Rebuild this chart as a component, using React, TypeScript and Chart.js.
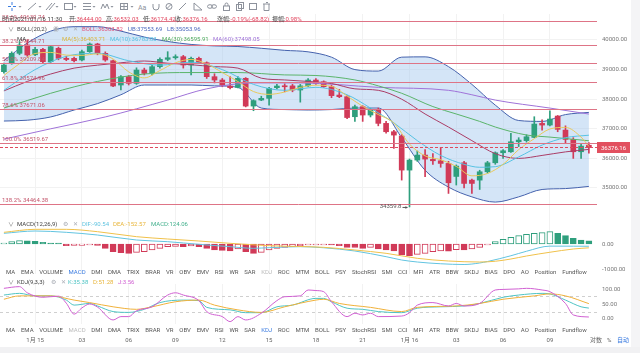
import React, { useEffect, useRef } from 'react';
import { Chart, registerables } from 'chart.js';

Chart.register(...registerables);

// ---------------- data ----------------
const opens = [
  38929, 39211, 39549, 39831, 39500, 39684, 39267, 39718, 39380, 39380,
  39324, 39605, 39865, 39549, 39300, 38478, 38760, 38535, 38985, 38873,
  39098, 39346, 39400, 39437, 39155, 39380, 39233, 38760, 38648, 38445,
  38400, 38704, 37768, 37971, 38028, 38388, 38445, 38450, 38310, 38450,
  38647, 38591, 38422, 38140, 38084, 37408, 37746, 37465, 37656, 37183,
  36901, 36754, 35605, 35943, 36112, 35966, 35920, 35830, 35390, 35852,
  35266, 35266, 35548, 35852, 36191, 36224, 36562, 36600, 36709, 37183,
  37126, 37430, 36957, 36641, 36224, 36444.0,
];
const highs = [
  39220, 39600, 39950, 40000, 39750, 39720, 39800, 39760, 39450, 39420,
  39660, 39900, 39890, 39600, 39320, 38800, 38800, 39060, 39050, 39150,
  39400, 39605, 39500, 39480, 39420, 39420, 39260, 38860, 38700, 38760,
  38760, 38730, 37980, 38100, 38400, 38500, 38520, 38500, 38500, 38700,
  38700, 38620, 38480, 38330, 38120, 37800, 37780, 37680, 37700, 37250,
  36950, 36800, 35980, 36250, 36300, 36160, 36371, 35900, 35780, 35900,
  35300, 35600, 35900, 36220, 36300, 36844, 36700, 36800, 37408, 37300,
  37611, 37450, 37100, 36700, 36500, 36532.03,
];
const lows = [
  38880, 39180, 39500, 39450, 39470, 39230, 39240, 39330, 39300, 39260,
  39290, 39580, 39500, 39280, 38420, 38310, 38480, 38500, 38820, 38820,
  39050, 39300, 39350, 39050, 38816, 39200, 38700, 38550, 38420, 38350,
  38380, 37740, 37610, 37950, 37800, 38350, 38250, 38250, 37900, 38420,
  38500, 38400, 38050, 38050, 37340, 37250, 37250, 37400, 37100, 36850,
  36338, 35267, 34359.8, 35900, 35380, 35800, 35700, 34816, 35100, 35000,
  34816, 34950, 35500, 35800, 36000, 36200, 36400, 36550, 36700, 36950,
  37100, 36900, 36500, 36000, 36000, 36174.42,
];
const closes = [
  39155, 39549, 39831, 39493, 39684, 39267, 39774, 39380, 39340, 39300,
  39605, 39865, 39549, 39324, 38445, 38760, 38535, 38985, 38873, 39098,
  39346, 39400, 39437, 39155, 39380, 39233, 38760, 38648, 38478, 38388,
  38704, 37768, 37950, 38028, 38366, 38445, 38420, 38310, 38450, 38647,
  38535, 38422, 38120, 38084, 37380, 37746, 37465, 37633, 37183, 36901,
  36788, 35605, 35943, 36112, 35977, 35920, 35830, 35177, 35740, 35154,
  35154, 35548, 35852, 36190, 36258, 36562, 36620, 36731, 37160, 37126,
  37329, 36980, 36641, 36224, 36416, 36376.16,
];

const xTickIdx = [4, 10, 16, 22, 28, 34, 40, 46, 52, 58, 64, 70];
const xTickLabels = ['1月 15', '03', '06', '09', '12', '15', '18', '21', '1月 16', '03', '06', '09'];

const priceTicks = [35000, 36000, 37000, 38000, 39000, 40000];
const macdTicks = [-1000, 0];
const kdjTicks = [0, 50, 100];

const fibPct = ['23.6%', '38.2%', '50.0%', '61.8%', '78.6%', '100.0%', '138.2%'];
const fibVals = [40630.74, 39844.71, 39209.84, 38574.96, 37671.06, 36519.67, 34464.38];
const lastPrice = 36376.16;
const lowMark = 34359.8;
const lowMarkIdx = 52;

const bandIdx = [0, 3, 6, 9, 12, 15, 18, 21, 24, 27, 30, 33, 36, 39, 42, 45, 48, 51, 54, 57, 60, 63, 66, 69, 72, 75];
const ubVals = [39300, 39900, 40300, 40450, 40450, 40300, 40100, 39950, 39850, 39800, 39780, 39720, 39650, 39600, 39420, 39000, 38950, 39420, 39430, 39100, 38500, 37800, 37280, 37250, 37480, 37553.69];
const lbVals = [37262, 37290, 37400, 37634, 37850, 38150, 38479, 38479, 38479, 38450, 38400, 37700, 37650, 37634, 37650, 37700, 37700, 36700, 35600, 35030, 34700, 34524, 34700, 34950, 34980, 35053.96];
const bollVals = [38280, 38600, 38850, 39050, 39150, 39230, 39290, 39215, 39165, 39100, 39050, 38710, 38650, 38600, 38530, 38350, 38300, 38000, 37500, 37060, 36600, 36160, 36000, 36100, 36220, 36303.82];

const ma5Pts: [number, number][] = [
  [0, 38800], [2, 39200], [4, 39542], [6, 39580], [8, 39489], [10, 39480], [12, 39532], [14, 39358],
  [16, 38923], [18, 38720], [20, 38967], [22, 39231], [24, 39344], [26, 39193], [28, 38900], [30, 38596],
  [32, 38258], [34, 38163], [36, 38242], [38, 38398], [40, 38472], [42, 38435], [44, 38108], [46, 37759],
  [48, 37481], [50, 37194], [52, 36484], [54, 36085], [56, 35956], [58, 35729], [60, 35411], [62, 35490],
  [64, 35800], [66, 36296], [68, 36666], [70, 36993], [72, 37047], [74, 36718], [75, 36403.71],
];
const ma10Pts: [number, number][] = [
  [0, 38300], [4, 39000], [8, 39450], [12, 39550], [16, 39300], [20, 39150], [24, 39250], [28, 39000],
  [32, 38500], [36, 38300], [40, 38400], [44, 38150], [47, 37700], [50, 37200], [53, 36600], [56, 36100],
  [59, 35800], [61, 35700], [63, 35720], [66, 36050], [69, 36450], [72, 36700], [75, 36783.83],
];
const ma30Pts: [number, number][] = [
  [0, 37700], [6, 38200], [12, 38600], [18, 38850], [24, 38900], [30, 38900], [36, 38820], [40, 38800],
  [45, 38650], [48, 38450], [51, 38200], [55, 37750], [58, 37500], [61, 37250], [63, 37060], [67, 36790],
  [70, 36720], [75, 36595.91],
];
const ma60Pts: [number, number][] = [
  [0, 36650], [6, 37000], [13, 37400], [21, 37970], [26, 38350], [32, 38550], [38, 38550], [48, 38400],
  [57, 38300], [60, 38150], [63, 37970], [70, 37700], [75, 37498.05],
];

const macdHist = [
  10, 93, 133, 128, 107, 67, 40, 13, -67, -60,
  -53, -40, -60, -173, -307, -347, -373, -333, -307, -240,
  -173, -107, -100, -107, -80, -107, -173, -240, -253, -280,
  -200, -307, -373, -333, -240, -173, -133, -107, -80, -40,
  -20, -20, -27, -67, -133, -140, -173, -133, -200, -240,
  -280, -440, -467, -413, -373, -307, -280, -290, -227, -240,
  -200, -133, -40, 93, 187, 267, 333, 387, 427, 453,
  493, 427, 333, 227, 160, 124.06,
];
const difPts: [number, number][] = [
  [0, 427], [4, 520], [8, 467], [12, 360], [17, 160], [21, 93], [25, -13], [29, -107], [32, -173],
  [34, -147], [38, -107], [41, -150], [45, -280], [49, -507], [51, -640], [53, -720], [56, -790],
  [59, -820], [61, -760], [62, -700], [65, -470], [67, -290], [70, -85], [73, -87], [75, -90.54],
];
const deaPts: [number, number][] = [
  [0, 467], [4, 587], [8, 587], [12, 493], [17, 293], [21, 200], [25, 120], [29, 27], [34, -67],
  [41, -133], [45, -240], [49, -373], [53, -573], [57, -680], [61, -720], [63, -690], [65, -600],
  [67, -480], [70, -330], [73, -200], [75, -152.57],
];

const kPts: [number, number][] = [
  [0, 82], [2, 88], [4, 79], [6, 79], [8, 64], [9, 46], [11, 52], [12, 43], [14, 23], [16, 20], [18, 31],
  [20, 55], [23, 64], [25, 62], [26, 38], [29, 29], [31, 19], [33, 19], [35, 40], [37, 46], [40, 70],
  [41, 70], [42, 58], [44, 35], [46, 31], [48, 23], [51, 19], [53, 35], [56, 40], [59, 43], [61, 52],
  [64, 74], [66, 82], [69, 88], [70, 86], [72, 64], [74, 40], [75, 35.38],
];
const dPts: [number, number][] = [
  [0, 67], [2, 79], [6, 79], [9, 64], [11, 55], [14, 40], [17, 31], [19, 40], [22, 58], [25, 64],
  [27, 46], [30, 29], [33, 20], [36, 40], [40, 64], [41, 67], [43, 52], [47, 38], [51, 23], [53, 38],
  [58, 43], [61, 52], [64, 67], [68, 79], [70, 86], [72, 79], [75, 51.28],
];
const jPts: [number, number][] = [
  [0, 106], [2, 112], [3, 90], [5, 74], [7, 78], [8, 53], [9, 14], [10, 36], [11, 50], [12, 39],
  [14, -7], [15, 5], [16, 5], [17, 26], [19, 40], [21, 82], [22, 90], [23, 82], [25, 62], [26, 23],
  [28, 5], [29, -13], [30, 5], [31, -7], [33, 17], [35, 62], [36, 76], [38, 79], [39, 100], [40, 98],
  [41, 94], [42, 58], [44, 5], [45, 17], [46, 11], [47, 17], [48, 5], [51, 7], [52, 19], [53, 46],
  [55, 55], [57, 43], [58, 52], [59, 43], [61, 52], [63, 100], [64, 102], [66, 104], [67, 106],
  [69, 100], [70, 94], [72, 52], [73, 11], [75, 3.56],
];

const tabs = ['MA', 'EMA', 'VOLUME', 'MACD', 'DMI', 'DMA', 'TRIX', 'BRAR', 'VR', 'OBV', 'EMV', 'RSI', 'WR', 'SAR', 'KDJ', 'ROC', 'MTM', 'BOLL', 'PSY', 'StochRSI', 'SMI', 'CCI', 'MFI', 'ATR', 'BBW', 'SKDJ', 'BIAS', 'DPO', 'AO', 'Position', 'Fundflow'];

// ---------------- styles ----------------
const FONT = 'Roboto, "Noto Sans CJK SC", "Noto Sans", sans-serif';
const GREEN = '#2f9f7d';
const RED = '#d13a58';
const GRID = '#f2f2f2';
const BAND_LINE = '#4562ad';
const BAND_FILL = 'rgba(160, 198, 238, 0.45)';
const C_MA5 = '#e8c95c';
const C_MA10 = '#57c2e2';
const C_MA30 = '#5ab46a';
const C_MA60 = '#9f72d8';
const C_BOLL = '#aa3c66';
const C_DIF = '#62c4e0';
const C_DEA = '#f0c14a';
const C_K = '#4fc4c4';
const C_D = '#f0b13a';
const C_J = '#d05fd2';
const FIB_LINE = '#de7486';
const FIB_TEXT = '#c4566c';
const TXT = '#444';

const X_MIN = -0.5;
const X_MAX = 76.04;
const P_MIN = 34189;
const P_MAX = 40878;

const candleColors = closes.map((c, i) => (c >= opens[i] ? GREEN : RED));

const pts = (arr: [number, number][]) => arr.map(([x, y]) => ({ x, y }));

function lineDs(label: string, data: any[], color: string, order: number) {
  return {
    type: 'line' as const,
    label,
    data,
    borderColor: color,
    borderWidth: 1,
    pointRadius: 0,
    fill: false,
    order,
    cubicInterpolationMode: 'monotone' as const,
  };
}

function xAxis(showLabels: boolean) {
  return {
    type: 'linear' as const,
    min: X_MIN,
    max: X_MAX,
    offset: false,
    afterBuildTicks: (s: any) => {
      s.ticks = xTickIdx.map((v) => ({ value: v }));
    },
    afterFit: (s: any) => {
      s.height = showLabels ? 24 : 0;
      s.paddingLeft = 0;
      s.paddingRight = 0;
    },
    ticks: {
      display: showLabels,
      autoSkip: false,
      maxRotation: 0,
      padding: 13,
      color: '#666',
      font: { size: 6, family: FONT },
      callback: (v: any) => {
        const k = xTickIdx.indexOf(Number(v));
        return k >= 0 ? xTickLabels[k] : '';
      },
    },
    grid: { color: GRID, drawTicks: false, offset: false },
    border: { display: false },
  };
}

function yAxis(min: number, max: number, ticks: number[], showGrid: boolean) {
  return {
    type: 'linear' as const,
    position: 'right' as const,
    min,
    max,
    afterBuildTicks: (s: any) => {
      s.ticks = ticks.map((v) => ({ value: v }));
    },
    afterFit: (s: any) => {
      s.width = 43;
      s.paddingTop = 0;
      s.paddingBottom = 0;
    },
    ticks: {
      padding: 5,
      color: '#777',
      font: { size: 6, family: FONT },
      callback: (v: any) => Number(v).toFixed(2),
    },
    grid: { display: showGrid, color: GRID, drawTicks: false },
    border: { display: false },
  };
}

const baseOptions = {
  responsive: false,
  animation: false as const,
  devicePixelRatio: 1,
  events: [] as any[],
  layout: { padding: 0 },
  plugins: { legend: { display: false }, tooltip: { enabled: false } },
};

const priceOverlay = {
  id: 'priceOverlay',
  afterDatasetsDraw(chart: any) {
    const { ctx, chartArea: a, scales } = chart;
    const y = scales.y;
    const x = scales.x;
    ctx.save();
    ctx.font = `6px ${FONT}`;
    fibVals.forEach((v, k) => {
      const py = Math.round(y.getPixelForValue(v)) + 0.5;
      ctx.strokeStyle = FIB_LINE;
      ctx.lineWidth = 1;
      ctx.beginPath();
      ctx.moveTo(a.left, py);
      ctx.lineTo(a.right, py);
      ctx.stroke();
      ctx.fillStyle = FIB_TEXT;
      ctx.textAlign = 'left';
      ctx.textBaseline = 'bottom';
      ctx.fillText(`${fibPct[k]} ${v.toFixed(2)}`, a.left + 2, py - 1.5);
    });
    // current price
    const cy = Math.round(y.getPixelForValue(lastPrice)) + 0.5;
    ctx.strokeStyle = '#e04a5e';
    ctx.setLineDash([3, 2]);
    ctx.beginPath();
    ctx.moveTo(a.left, cy);
    ctx.lineTo(a.right, cy);
    ctx.stroke();
    ctx.setLineDash([]);
    ctx.fillStyle = '#e2505f';
    ctx.fillRect(a.right, cy - 5.5, 33, 11);
    ctx.fillStyle = '#fff';
    ctx.textAlign = 'center';
    ctx.textBaseline = 'middle';
    ctx.fillText(lastPrice.toFixed(2), a.right + 16.5, cy + 0.5);
    // lowest mark
    const lx = x.getPixelForValue(lowMarkIdx);
    const ly = y.getPixelForValue(lowMark);
    ctx.fillStyle = '#555';
    ctx.textAlign = 'right';
    ctx.textBaseline = 'middle';
    ctx.fillText(String(lowMark), lx - 8, ly);
    ctx.strokeStyle = '#555';
    ctx.beginPath();
    ctx.moveTo(lx - 7, ly + 0.5);
    ctx.lineTo(lx - 2, ly + 0.5);
    ctx.stroke();
    ctx.beginPath();
    ctx.moveTo(lx - 2, ly + 0.5);
    ctx.lineTo(lx - 4, ly - 1);
    ctx.lineTo(lx - 4, ly + 2);
    ctx.closePath();
    ctx.fillStyle = '#555';
    ctx.fill();
    ctx.restore();
  },
};

const kdjDash = {
  id: 'kdjDash',
  beforeDatasetsDraw(chart: any) {
    const { ctx, chartArea: a, scales } = chart;
    ctx.save();
    ctx.strokeStyle = '#cfcfcf';
    ctx.lineWidth = 1;
    ctx.setLineDash([3, 3]);
    [20, 80].forEach((v) => {
      const py = Math.round(scales.y.getPixelForValue(v)) + 0.5;
      ctx.beginPath();
      ctx.moveTo(a.left, py);
      ctx.lineTo(a.right, py);
      ctx.stroke();
    });
    ctx.restore();
  },
};

function Txt({ x, y, color = TXT, children, size = 6 }: any) {
  return (
    <div
      style={{
        position: 'absolute',
        left: x,
        top: y - 4,
        height: 8,
        lineHeight: '8px',
        fontSize: size,
        color,
        whiteSpace: 'nowrap',
      }}
    >
      {children}
    </div>
  );
}

function TabRow({ y, active, dim }: { y: number; active: string; dim: string }) {
  return (
    <div
      style={{
        position: 'absolute',
        left: 6,
        width: 581,
        top: y - 4,
        height: 8,
        lineHeight: '8px',
        fontSize: 6,
        display: 'flex',
        justifyContent: 'space-between',
        color: '#555',
      }}
    >
      {tabs.map((t) => (
        <span key={t} style={{ color: t === active ? '#3a7be0' : t === dim ? '#bbb' : '#555' }}>
          {t}
        </span>
      ))}
    </div>
  );
}

function Toolbar() {
  const g = '#8d929c';
  const tri = (x: number) => <path d={`M${x - 1.5} 6 L${x + 1.5} 6 L${x} 7.8 Z`} fill={g} />;
  return (
    <svg width={300} height={13} style={{ position: 'absolute', left: 0, top: 0 }}>
      <g stroke="#3b7de0" strokeWidth={1}>
        <line x1={12} y1={2} x2={12} y2={5} />
        <line x1={12} y1={8} x2={12} y2={11} />
        <line x1={8} y1={6.5} x2={11} y2={6.5} />
        <line x1={13} y1={6.5} x2={16} y2={6.5} />
      </g>
      {tri(20)}
      <g stroke={g} strokeWidth={1} fill="none">
        <line x1={28} y1={10} x2={36} y2={3} />
        <line x1={46} y1={10} x2={52} y2={3} />
        <line x1={49} y1={10} x2={55} y2={3} />
        <rect x={64.5} y={3.5} width={8} height={6} />
        <line x1={83} y1={3.5} x2={91} y2={3.5} />
        <line x1={83} y1={6.5} x2={91} y2={6.5} />
        <line x1={83} y1={9.5} x2={91} y2={9.5} />
        <polyline points="101,9 103,4 105,8 107,4 109,9" />
        <rect x={120.5} y={3.5} width={7} height={6} />
        <line x1={124} y1={3.5} x2={124} y2={9.5} />
        <line x1={120.5} y1={6.5} x2={127.5} y2={6.5} />
        <path d="M153 4 v3 a3 3 0 0 0 6 0 v-3" />
        <circle cx={169} cy={6.5} r={3} />
        <line x1={166.5} y1={9} x2={171.5} y2={4} />
        <line x1={179} y1={10} x2={186} y2={3} />
        <path d="M194 10 L202 10 L194 3 Z" />
        <ellipse cx={210} cy={6.5} rx={2.5} ry={1.8} />
        <ellipse cx={214} cy={6.5} rx={2.5} ry={1.8} />
        <rect x={223.5} y={6} width={6} height={4.5} />
        <path d="M225 6 v-1.5 a1.5 1.5 0 0 1 3 0 v1.5" />
        <rect x={236.5} y={4.5} width={5} height={6} />
        <rect x={238.5} y={2.5} width={5} height={6} />
        <rect x={249.5} y={3.5} width={7} height={6} />
        <path d="M263 4 h7 M264 4 v6.5 h5 v-6.5 M266 2.5 h2" />
      </g>
      {tri(40)}
      {tri(57)}
      {tri(75)}
      {tri(94)}
      {tri(112)}
      {tri(132)}
      <text x={138} y={9.5} fontSize={7} fill={g} fontFamily={FONT}>
        Aa
      </text>
    </svg>
  );
}

export default function App() {
  const priceRef = useRef<HTMLCanvasElement>(null);
  const macdRef = useRef<HTMLCanvasElement>(null);
  const kdjRef = useRef<HTMLCanvasElement>(null);

  useEffect(() => {
    document.body.style.margin = '0';
    Chart.defaults.font.family = FONT;
    const charts: Chart[] = [];

    const bandData = (vals: number[]) => bandIdx.map((x, k) => ({ x, y: vals[k] }));

    charts.push(
      new Chart(priceRef.current as HTMLCanvasElement, {
        type: 'bar',
        data: {
          datasets: [
            { ...lineDs('UB', bandData(ubVals), BAND_LINE, 20), fill: '+1', backgroundColor: BAND_FILL },
            lineDs('LB', bandData(lbVals), BAND_LINE, 19),
            {
              type: 'bar',
              label: 'wick',
              data: lows.map((l, i) => ({ x: i, y: [l, highs[i]] })),
              backgroundColor: candleColors,
              barThickness: 1,
              grouped: false,
              order: 6,
            },
            {
              type: 'bar',
              label: 'body',
              data: opens.map((o, i) => ({ x: i, y: [o, closes[i]] })),
              backgroundColor: candleColors,
              barThickness: 5,
              minBarLength: 1,
              grouped: false,
              order: 5,
            },
            lineDs('MA60', pts(ma60Pts), C_MA60, 4),
            lineDs('MA30', pts(ma30Pts), C_MA30, 3),
            lineDs('BOLL', bandData(bollVals), C_BOLL, 2),
            lineDs('MA10', pts(ma10Pts), C_MA10, 1),
            lineDs('MA5', pts(ma5Pts), C_MA5, 0),
          ] as any,
        },
        options: {
          ...baseOptions,
          plugins: { ...baseOptions.plugins, filler: { propagate: false } },
          scales: { x: xAxis(false), y: yAxis(P_MIN, P_MAX, priceTicks, true) },
        } as any,
        plugins: [priceOverlay],
      })
    );

    const histColors = macdHist.map((v) => (v >= 0 ? GREEN : RED));
    const histFill = macdHist.map((v, i) => {
      const prev = i > 0 ? macdHist[i - 1] : v;
      return v < prev ? histColors[i] : '#ffffff';
    });

    charts.push(
      new Chart(macdRef.current as HTMLCanvasElement, {
        type: 'bar',
        data: {
          datasets: [
            {
              type: 'bar',
              label: 'MACD',
              data: macdHist.map((v, i) => ({ x: i, y: v })),
              backgroundColor: histFill,
              borderColor: histColors,
              borderWidth: 1,
              borderSkipped: false,
              barThickness: 6,
              minBarLength: 1,
              order: 3,
            },
            lineDs('DIF', pts(difPts), C_DIF, 1),
            lineDs('DEA', pts(deaPts), C_DEA, 0),
          ] as any,
        },
        options: {
          ...baseOptions,
          scales: { x: xAxis(false), y: yAxis(-1200, 1280, macdTicks, false) },
        } as any,
      })
    );

    charts.push(
      new Chart(kdjRef.current as HTMLCanvasElement, {
        type: 'line',
        data: {
          datasets: [
            lineDs('K', pts(kPts), C_K, 2),
            lineDs('D', pts(dPts), C_D, 1),
            lineDs('J', pts(jPts), C_J, 0),
          ] as any,
        },
        options: {
          ...baseOptions,
          scales: { x: xAxis(true), y: yAxis(-21.4, 121.4, kdjTicks, false) },
        } as any,
        plugins: [kdjDash],
      })
    );

    return () => charts.forEach((c) => c.destroy());
  }, []);

  const red = '#e2475f';
  const icon = '#a9adb5';

  return (
    <div
      style={{
        position: 'fixed',
        left: 0,
        top: 0,
        width: 640,
        height: 353,
        background: '#fff',
        overflow: 'hidden',
        fontFamily: FONT,
      }}
    >
      <div style={{ position: 'absolute', left: 631, top: 0, width: 9, height: 347, background: '#f4f4f6' }} />
      <div style={{ position: 'absolute', left: 0, top: 347, width: 640, height: 6, background: '#f1f1f3' }} />
      <Toolbar />
      <canvas ref={priceRef} width={640} height={198} style={{ position: 'absolute', left: 0, top: 14, width: 640, height: 198 }} />
      <canvas ref={macdRef} width={640} height={62} style={{ position: 'absolute', left: 0, top: 212, width: 640, height: 62 }} />
      <canvas ref={kdjRef} width={640} height={64} style={{ position: 'absolute', left: 0, top: 284, width: 640, height: 64 }} />

      {/* header */}
      <Txt x={2} y={18.5}>时间2021/01/16 11:30</Txt>
      <Txt x={69} y={18.5}>开:<span style={{ color: red }}>36444.00</span></Txt>
      <Txt x={106} y={18.5}>高:<span style={{ color: red }}>36532.03</span></Txt>
      <Txt x={143} y={18.5}>低:<span style={{ color: red }}>36174.42</span></Txt>
      <Txt x={175} y={18.5}>收:<span style={{ color: red }}>36376.16</span></Txt>
      <Txt x={217} y={18.5}>涨幅:<span style={{ color: red }}>-0.19%(-68.82)</span></Txt>
      <Txt x={272} y={18.5}>振幅:<span style={{ color: red }}>0.98%</span></Txt>

      {/* BOLL row */}
      <Txt x={8} y={29} color="#888">∨</Txt>
      <Txt x={17} y={29}>BOLL(20,2)</Txt>
      <Txt x={53} y={29} color={icon}>◉</Txt>
      <Txt x={63} y={29} color={icon}>⚙</Txt>
      <Txt x={73} y={29} color={icon}>✕</Txt>
      <Txt x={82} y={29} color="#e0557a">BOLL:36303.82</Txt>
      <Txt x={128} y={29} color="#4a68bd">UB:37553.69</Txt>
      <Txt x={167} y={29} color="#4a68bd">LB:35053.96</Txt>

      {/* MA row */}
      <Txt x={17} y={39}>MA</Txt>
      <Txt x={62} y={39} color="#d9b53c">MA(5):36403.71</Txt>
      <Txt x={110} y={39} color={C_MA10}>MA(10):36783.83</Txt>
      <Txt x={162} y={39} color="#4aa85a">MA(30):36595.91</Txt>
      <Txt x={213} y={39} color={C_MA60}>MA(60):37498.05</Txt>

      {/* MACD row */}
      <Txt x={8} y={224} color="#888">∨</Txt>
      <Txt x={17} y={224}>MACD(12,26,9)</Txt>
      <Txt x={63} y={224} color={icon}>⚙</Txt>
      <Txt x={73} y={224} color={icon}>✕</Txt>
      <Txt x={82} y={224} color={C_DIF}>DIF:-90.54</Txt>
      <Txt x={113} y={224} color="#e8b53a">DEA:-152.57</Txt>
      <Txt x={151} y={224} color="#43b08d">MACD:124.06</Txt>

      <TabRow y={272} active="MACD" dim="KDJ" />

      {/* KDJ row */}
      <Txt x={8} y={282} color="#888">∨</Txt>
      <Txt x={17} y={282}>KDJ(9,3,3)</Txt>
      <Txt x={51} y={282} color={icon}>⚙</Txt>
      <Txt x={61} y={282} color={icon}>✕</Txt>
      <Txt x={68} y={282} color={C_K}>K:35.38</Txt>
      <Txt x={93} y={282} color="#e8b53a">D:51.28</Txt>
      <Txt x={118} y={282} color={C_J}>J:3.56</Txt>

      <TabRow y={330} active="KDJ" dim="MACD" />

      <Txt x={590} y={340} color="#666">对数</Txt>
      <Txt x={607} y={340} color="#666">%</Txt>
      <Txt x={617} y={340} color="#3a7be0">自动</Txt>
    </div>
  );
}
